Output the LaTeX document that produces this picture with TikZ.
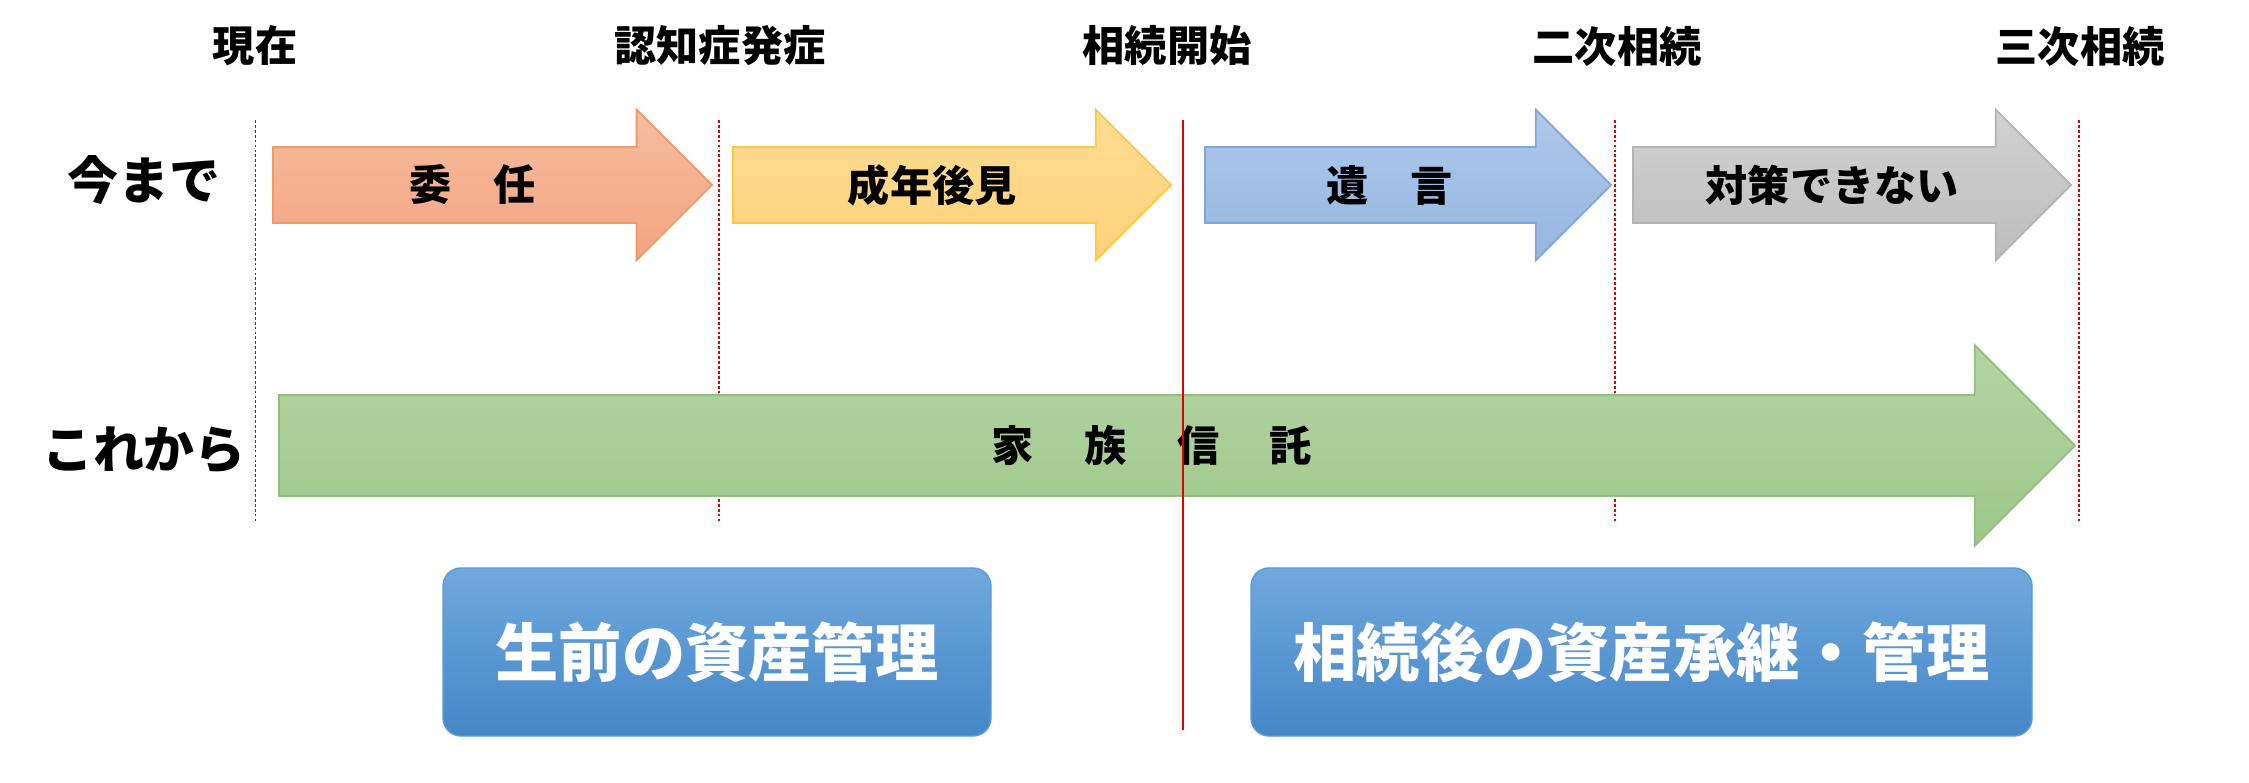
\documentclass[tikz,border=0pt]{standalone}
\usepackage{fontspec}
\setmainfont{Noto Sans CJK JP}
\usetikzlibrary{shapes.arrows, calc}
\definecolor{lineaRoja}{HTML}{E00000}
\definecolor{salmonArriba}{HTML}{F6BDA2}
\definecolor{salmonAbajo}{HTML}{F3A47F}
\definecolor{salmonBorde}{HTML}{F19A68}
\definecolor{amarilloArriba}{HTML}{FFDC93}
\definecolor{amarilloAbajo}{HTML}{FFD27A}
\definecolor{amarilloBorde}{HTML}{FFC83D}
\definecolor{azulArriba}{HTML}{ADC8EA}
\definecolor{azulAbajo}{HTML}{96B7E1}
\definecolor{azulBorde}{HTML}{7EA6DA}
\definecolor{grisArriba}{HTML}{D2D2D2}
\definecolor{grisAbajo}{HTML}{BDBDBD}
\definecolor{grisBorde}{HTML}{B3B3B3}
\definecolor{verdeArriba}{HTML}{B3D4A3}
\definecolor{verdeAbajo}{HTML}{9FC78B}
\definecolor{verdeBorde}{HTML}{93BF7E}
\definecolor{cajaArriba}{HTML}{70A8DD}
\definecolor{cajaAbajo}{HTML}{4487C8}
\definecolor{cajaBorde}{HTML}{5B9BD5}

\begin{document}
\begin{tikzpicture}[font=\bfseries,
        hito/.style={font=\bfseries\fontsize{12}{14}\selectfont},
        fila/.style={font=\bfseries\fontsize{14.5}{17}\selectfont},
        et/.style={font=\bfseries\fontsize{12}{14}\selectfont},
        fl/.style={single arrow, single arrow head extend=0.375cm, single arrow tip angle=90,
            inner sep=0pt, outer sep=0pt, anchor=tail, line width=0.5pt},
        guia/.style={lineaRoja, line width=0.45pt, dash pattern=on 0.8pt off 0.6pt},
        caja/.style={draw=cajaBorde, top color=cajaArriba, bottom color=cajaAbajo, rounded corners=0.18cm,
            minimum height=1.68cm, text=white, font=\bfseries\fontsize{18}{21}\selectfont}]
    \useasboundingbox (0,0) rectangle (22.49,-7.83);
    % hitos
    \node[hito] (hoy) at (2.55,-0.46) {現在};
    \node[hito] (demencia) at (7.20,-0.46) {認知症発症};
    \node[hito] (inicio) at (11.67,-0.46) {相続開始};
    \node[hito] (segundo) at (16.17,-0.46) {二次相続};
    \node[hito] (tercero) at (20.80,-0.46) {三次相続};
    \node[fila] (antes) at (1.44,-1.80) {今まで};
    \node[fila] (ahora) at (1.44,-4.50) {これから};
    % lineas de guia
    \foreach \x/\n in {2.556/g0, 7.19/g1, 16.15/g3, 20.79/g4} {
        \coordinate (\n a) at (\x,-1.20);
        \coordinate (\n b) at (\x,-5.22);
        \draw[guia] (\n a) -- (\n b);
    }
    % flechas
    \node[fl, minimum height=4.39cm, top color=salmonArriba, bottom color=salmonAbajo, draw=salmonBorde] (a1) at (2.73,-1.85) {\rule{0pt}{0.74cm}};
    \node[fl, minimum height=4.38cm, top color=amarilloArriba, bottom color=amarilloAbajo, draw=amarilloBorde] (a2) at (7.33,-1.85) {\rule{0pt}{0.74cm}};
    \node[fl, minimum height=4.06cm, top color=azulArriba, bottom color=azulAbajo, draw=azulBorde] (a3) at (12.05,-1.85) {\rule{0pt}{0.74cm}};
    \node[fl, minimum height=4.38cm, top color=grisArriba, bottom color=grisAbajo, draw=grisBorde] (a4) at (16.33,-1.85) {\rule{0pt}{0.74cm}};
    \node[fl, minimum height=17.96cm, single arrow head extend=0.5cm,
        top color=verdeArriba, bottom color=verdeAbajo, draw=verdeBorde] (fam) at (2.79,-4.455) {\rule{0pt}{0.99cm}};
    \node[et] (t1) at ($(a1.tail)!0.455!(a1.tip)$) {委　任};
    \node[et] (t2) at ($(a2.tail)!0.455!(a2.tip)$) {成年後見};
    \node[et] (t3) at ($(a3.tail)!0.455!(a3.tip)$) {遺　言};
    \node[et] (t4) at ($(a4.tail)!0.455!(a4.tip)$) {対策できない};
    \node[et] (t5) at ($(fam.tail)!0.486!(fam.tip)$) {家\hspace{1.2em}族\hspace{1.2em}信\hspace{1.2em}託};
    % linea de inicio
    \coordinate (rojoA) at (11.83,-1.20);
    \coordinate (rojoB) at (11.83,-7.30);
    \draw[lineaRoja, line width=0.8pt] (rojoA) -- (rojoB);
    % cajas
    \node[caja, minimum width=5.48cm] (vida) at (7.17,-6.52) {生前の資産管理};
    \node[caja, minimum width=7.81cm] (despues) at (16.415,-6.52) {相続後の資産承継・管理};
\end{tikzpicture}
\end{document}
